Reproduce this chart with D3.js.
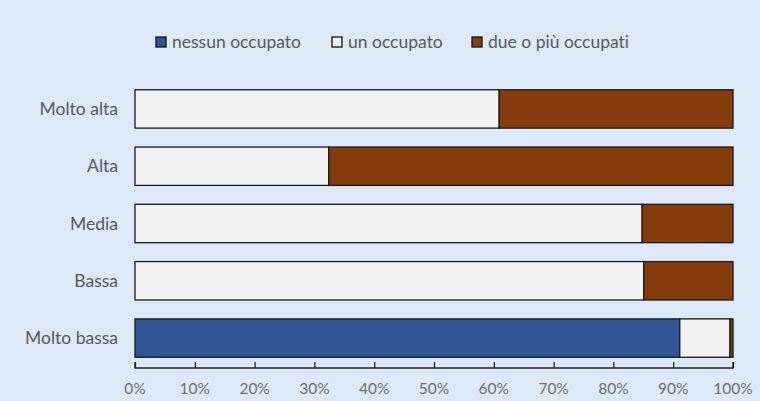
<!DOCTYPE html>
<html>
<head>
<meta charset="utf-8">
<script src="https://cdn.jsdelivr.net/npm/d3@7"></script>
<style>
  body { margin: 0; background: #dde9f6; }
  text { font-family: Lato, "Open Sans", sans-serif; fill: #595959; font-variant-ligatures: none; }
</style>
</head>
<body>
<div class="canvas"></div>
<script>
const categories = ['Molto alta', 'Alta', 'Media', 'Bassa', 'Molto bassa'];
const seriesNames = ['nessun occupato', 'un occupato', 'due o più occupati'];
const nessun = [0, 0, 0, 0, 91.1];
const uno = [60.9, 32.4, 84.8, 85.1, 8.4];
const dueOPiu = [39.1, 67.6, 15.2, 14.9, 0.5];
const ticks = [0, 10, 20, 30, 40, 50, 60, 70, 80, 90, 100];
const colours = ['#2f5597', '#f2f2f2', '#843c0c'];

const dims = { width: 760, height: 401 };
const margin = { left: 135, right: 27, top: 80, bottom: 34 };

const svg = d3.select('.canvas')
    .append('svg')
    .attr('width', dims.width)
    .attr('height', dims.height);

svg.append('rect')
    .attr('width', dims.width)
    .attr('height', dims.height)
    .attr('fill', '#dde9f6');

const x = d3.scaleLinear()
    .domain([0, 100])
    .range([margin.left, dims.width - margin.right]);

const y = d3.scaleBand()
    .domain(categories)
    .range([margin.top, 367])
    .paddingInner(0.33)
    .paddingOuter(0.17);

const rows = categories.map((c, i) => ({
    cat: c,
    'nessun occupato': nessun[i],
    'un occupato': uno[i],
    'due o più occupati': dueOPiu[i]
}));

const stack = d3.stack().keys(seriesNames);
const colour = d3.scaleOrdinal().domain(seriesNames).range(colours);

const layers = svg.append('g')
    .selectAll('g')
    .data(stack(rows))
    .join('g')
    .attr('fill', d => colour(d.key));

layers.selectAll('rect')
    .data(d => d.filter(p => p[1] - p[0] > 0))
    .join('rect')
    .attr('x', d => x(d[0]))
    .attr('y', d => y(d.data.cat))
    .attr('width', d => x(d[1]) - x(d[0]))
    .attr('height', y.bandwidth())
    .attr('stroke', '#1a1a1a')
    .attr('stroke-width', 1.3);

// category labels
svg.append('g')
    .selectAll('text')
    .data(categories)
    .join('text')
    .attr('x', margin.left - 17)
    .attr('y', d => y(d) + y.bandwidth() / 2)
    .attr('dy', '0.35em')
    .attr('text-anchor', 'end')
    .style('font-size', '17.5px')
    .text(d => d);

// x axis, ticks pointing up
const axisY = 368;
const xAxis = svg.append('g')
    .attr('transform', `translate(0, ${axisY})`)
    .call(d3.axisTop(x).tickValues(ticks).tickSize(6).tickFormat(''));
xAxis.select('.domain').attr('stroke', '#222').attr('stroke-width', 1.3)
    .attr('d', `M${x(0)},-6V0H${x(100)}V-6`);
xAxis.selectAll('.tick line').attr('stroke', '#222').attr('stroke-width', 1.3);

svg.append('g')
    .selectAll('text')
    .data(ticks)
    .join('text')
    .attr('x', d => x(d))
    .attr('y', 389)
    .attr('dy', '0.35em')
    .attr('text-anchor', 'middle')
    .style('font-size', '15.5px')
    .style('fill', '#6f6f6f')
    .text(d => d + '%');

// legend
const legendX = [156, 332, 472];
const legend = svg.append('g')
    .selectAll('g')
    .data(seriesNames)
    .join('g')
    .attr('transform', (d, i) => `translate(${legendX[i]}, 42)`);

legend.append('rect')
    .attr('x', 0)
    .attr('y', -5)
    .attr('width', 10)
    .attr('height', 10)
    .attr('fill', d => colour(d))
    .attr('stroke', '#111')
    .attr('stroke-width', 1.3);

legend.append('text')
    .attr('x', 16)
    .attr('dy', '0.35em')
    .style('font-size', '17.5px')
    .text(d => d);
</script>
</body>
</html>
